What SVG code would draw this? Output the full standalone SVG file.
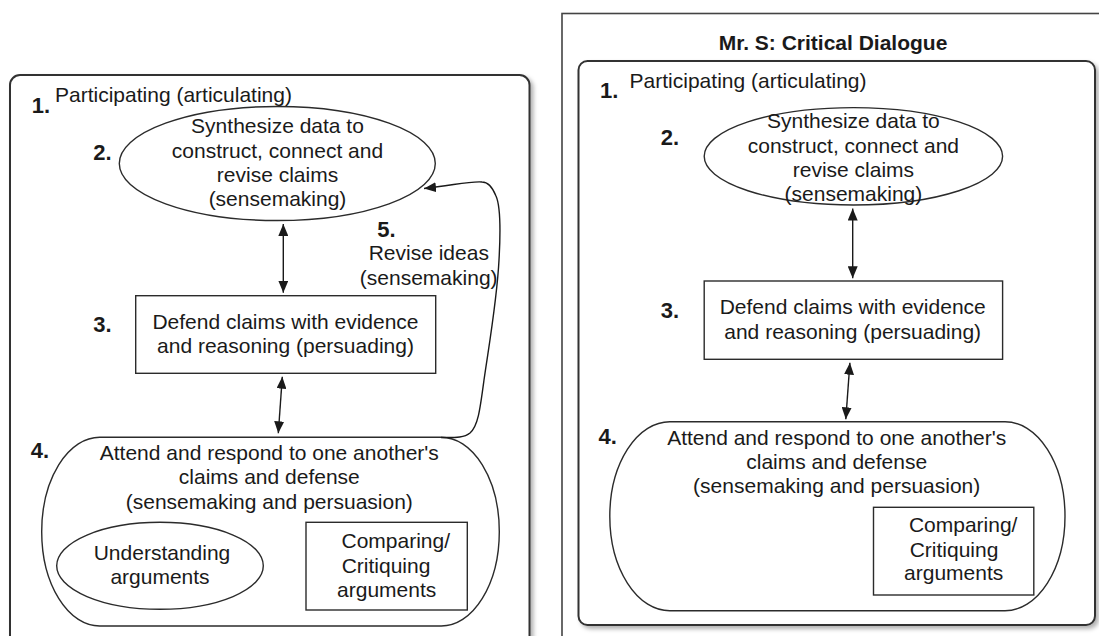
<svg xmlns="http://www.w3.org/2000/svg" width="1099" height="636" viewBox="0 0 1099 636">
  <style>
    .t { font-family: "Liberation Sans", Arial, sans-serif; font-size: 21px; fill: #1a1a1a; }
    .c { text-anchor: middle; }
    .n { font-weight: bold; font-size: 22px; }
    .h { font-weight: bold; font-size: 21px; text-anchor: middle; }
    .s { fill: #fff; stroke: #2b2b2b; stroke-width: 1.4; }
    .panel { fill: #fff; stroke: #333; stroke-width: 2; }
    .link { fill: none; stroke: #1a1a1a; stroke-width: 1.4; marker-end: url(#head); }
    .both { marker-start: url(#head); }
  </style>
  <defs>
    <filter id="shade" x="-5%" y="-5%" width="115%" height="115%">
      <feDropShadow dx="3" dy="3" stdDeviation="2" flood-color="#000" flood-opacity="0.3"/>
    </filter>
    <marker id="head" viewBox="0 0 12 10" refX="12" refY="5" markerWidth="12" markerHeight="10" markerUnits="userSpaceOnUse" orient="auto-start-reverse">
      <path d="M0,0 L12,5 L0,10 z" fill="#1a1a1a"/>
    </marker>
  </defs>
  <rect width="1099" height="636" fill="#fff"/>

  <!-- left model -->
  <g id="left-panel">
    <rect class="panel" x="10" y="75" width="519.5" height="620" rx="10" filter="url(#shade)"/>
    <text class="t n" x="31.7" y="112.7">1.</text>
    <text class="t" x="55" y="102.3">Participating (articulating)</text>
  </g>
  <g id="left-synthesize">
    <ellipse class="s" cx="277.3" cy="163.5" rx="158" ry="57"/>
    <text class="t n" x="93.3" y="160">2.</text>
    <text class="t c" x="277.5" y="133.3">Synthesize data to</text>
    <text class="t c" x="277.5" y="157.5">construct, connect and</text>
    <text class="t c" x="277.5" y="181.7">revise claims</text>
    <text class="t c" x="277.5" y="206">(sensemaking)</text>
  </g>
  <g id="left-defend">
    <rect class="s" x="135.7" y="295.7" width="300" height="77.6"/>
    <text class="t n" x="93.3" y="331.7">3.</text>
    <text class="t c" x="285.5" y="329.3">Defend claims with evidence</text>
    <text class="t c" x="285.5" y="353.3">and reasoning (persuading)</text>
  </g>
  <g id="left-attend">
    <rect class="s" x="41.7" y="437.3" width="457.6" height="188.7" rx="58" ry="94.35"/>
    <text class="t n" x="30.7" y="458.3">4.</text>
    <text class="t c" x="269.3" y="460">Attend and respond to one another's</text>
    <text class="t c" x="269.3" y="484.3">claims and defense</text>
    <text class="t c" x="269.3" y="508.7">(sensemaking and persuasion)</text>
  </g>
  <g id="left-understanding">
    <ellipse class="s" cx="160" cy="565.8" rx="103.3" ry="43.5"/>
    <text class="t c" x="162" y="560">Understanding</text>
    <text class="t c" x="160" y="583.5">arguments</text>
  </g>
  <g id="left-comparing">
    <rect class="s" x="306" y="522.3" width="161.3" height="87.7"/>
    <text class="t c" x="395.8" y="548.3">Comparing/</text>
    <text class="t c" x="386" y="573.3">Critiquing</text>
    <text class="t c" x="386.7" y="596.7">arguments</text>
  </g>
  <g id="left-revise-label">
    <text class="t n" x="377.3" y="236.7">5.</text>
    <text class="t c" x="428.8" y="260">Revise ideas</text>
    <text class="t c" x="428.7" y="285">(sensemaking)</text>
  </g>

  <!-- right model -->
  <g id="right-panel">
    <rect x="562" y="13.5" width="560" height="640" fill="#fff" stroke="#444" stroke-width="1.6"/>
    <text class="t h" x="833" y="50">Mr. S: Critical Dialogue</text>
    <rect class="panel" x="578.5" y="61" width="516.5" height="564" rx="9" filter="url(#shade)"/>
    <text class="t n" x="600" y="98.3">1.</text>
    <text class="t" x="629.6" y="88.3">Participating (articulating)</text>
  </g>
  <g id="right-synthesize">
    <ellipse class="s" cx="853.4" cy="156.3" rx="149.2" ry="48.7"/>
    <text class="t n" x="660.8" y="145">2.</text>
    <text class="t c" x="853.4" y="128.3">Synthesize data to</text>
    <text class="t c" x="853.4" y="152.7">construct, connect and</text>
    <text class="t c" x="853.4" y="176.7">revise claims</text>
    <text class="t c" x="853.4" y="200.8">(sensemaking)</text>
  </g>
  <g id="right-defend">
    <rect class="s" x="704.2" y="281" width="298.4" height="78.3"/>
    <text class="t n" x="660.8" y="318.3">3.</text>
    <text class="t c" x="852.7" y="314">Defend claims with evidence</text>
    <text class="t c" x="852.7" y="339.3">and reasoning (persuading)</text>
  </g>
  <g id="right-attend">
    <rect class="s" x="609.8" y="421.7" width="455.2" height="189" rx="60" ry="94.5"/>
    <text class="t n" x="598.4" y="444">4.</text>
    <text class="t c" x="836.7" y="445">Attend and respond to one another's</text>
    <text class="t c" x="836.7" y="469.3">claims and defense</text>
    <text class="t c" x="836.7" y="493.3">(sensemaking and persuasion)</text>
  </g>
  <g id="right-comparing">
    <rect class="s" x="873.5" y="507.3" width="160.3" height="87.7"/>
    <text class="t c" x="963.2" y="531.7">Comparing/</text>
    <text class="t c" x="954" y="556.7">Critiquing</text>
    <text class="t c" x="953.7" y="580">arguments</text>
  </g>

  <!-- connectors -->
  <g id="connectors">
    <line class="link both" x1="283.3" y1="224" x2="283.3" y2="292.7"/>
    <line class="link both" x1="282.3" y1="376.7" x2="278.3" y2="433.3"/>
    <path class="link" d="M441,437.5 C455,437.5 464,438 470,433 C478,426 480,410 484,380 C489,345 497,300 499,260 C501,225 500,205 496,196 C492,186 488,182 482,182 C470,181 455,185 424,188.5"/>
    <line class="link both" x1="852.7" y1="208.5" x2="852.7" y2="278.3"/>
    <line class="link both" x1="849.9" y1="362.7" x2="845.8" y2="419.3"/>
  </g>
</svg>
